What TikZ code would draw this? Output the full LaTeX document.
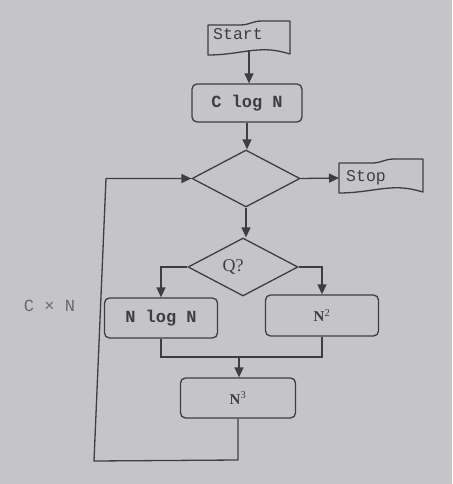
\documentclass[tikz,border=0pt]{standalone}
\usepackage{fontspec}
\setmainfont{Liberation Serif}
\setmonofont{Liberation Mono}
\usetikzlibrary{arrows.meta,shapes.geometric}
\definecolor{bg}{RGB}{197,197,199}
\definecolor{ink}{RGB}{62,62,64}
\definecolor{faint}{RGB}{105,105,108}
\begin{document}
\begin{tikzpicture}[x=1pt,y=-1pt,
  line/.style={draw=ink,line width=1.3pt},
  arr/.style={line,-{Triangle[length=10pt,width=9pt]}},
  proc/.style={line,rounded corners=5pt,inner sep=0pt},
  dec/.style={line,diamond,inner sep=0pt},
  monob/.style={font=\fontsize{17}{20}\selectfont\ttfamily\bfseries,text=ink},
  monor/.style={font=\fontsize{16.5}{20}\selectfont\ttfamily,text=ink,inner sep=0pt},
  serifb/.style={font=\fontsize{15}{18}\selectfont,text=ink},
  pics/tape/.style={code={\draw[line,line join=round] (0,0) -- (32,0) .. controls (42,0) and (44,-4) .. (54,-4) -- (82,-4) -- (82,29) .. controls (72,26) and (62,24) .. (50,25) .. controls (35,26) and (20,30) .. (0,30) -- cycle;}}
]
\fill[bg] (0,0) rectangle (452,484);
\useasboundingbox (0,0) rectangle (452,484);

% terminals
\pic at (208,25) {tape};
\node[monor,anchor=base west] (start) at (213,40) {Start};
\pic[xscale=1.024] at (339,163) {tape};
\node[monor,anchor=base west] (stop) at (346,181) {Stop};
\coordinate (sb) at (249,50.5);
\coordinate (stopl) at (339,178);

% process boxes
\node[proc,monob,minimum width=110pt,minimum height=38pt] (clog) at (247,103) {C log N};
\node[proc,monob,minimum width=113pt,minimum height=40pt] (nlog) at (161,318) {N log N};
\node[proc,serifb,minimum width=113pt,minimum height=41pt] (n2) at (322,315.5) {\textbf{N}\textsuperscript{2}};
\node[proc,serifb,minimum width=115pt,minimum height=40pt] (n3) at (238,398) {\textbf{N}\textsuperscript{3}};

% decisions
\node[dec,minimum width=108pt,minimum height=57pt] (d1) at (246,178.5) {};
\node[dec,minimum width=110pt,minimum height=58pt] (q) at (243,267) {};
\node[font=\fontsize{18}{21}\selectfont,text=ink] (qt) at (233,267) {Q?};

% label
\node[font=\fontsize{17}{20}\selectfont\ttfamily,text=faint] (cn) at (49.5,306) {C × N};

% connectors
\draw[arr] (sb) -- (sb |- clog.north);
\draw[arr] (clog.south) -- (clog.south |- d1.north);
\draw[arr] (d1.east) -- (stopl);
\draw[arr] (d1.south) -- (d1.south |- q.north);
\draw[arr] (q.west) -| (nlog.north);
\draw[arr] (q.east) -| (n2.north);
\coordinate (mid) at (239,357);
\draw[line] (nlog.south) |- (mid) -| (n2.south);
\draw[arr] (mid) -- (mid |- n3.north);
\coordinate (lb) at (237,460);
\coordinate (ll) at (94,461);
\coordinate (lt) at (106,178.5);
\draw[arr,line join=round] (n3.south) -- (n3.south |- lb) -- (ll) -- (lt) -- (d1.west);
\end{tikzpicture}
\end{document}
